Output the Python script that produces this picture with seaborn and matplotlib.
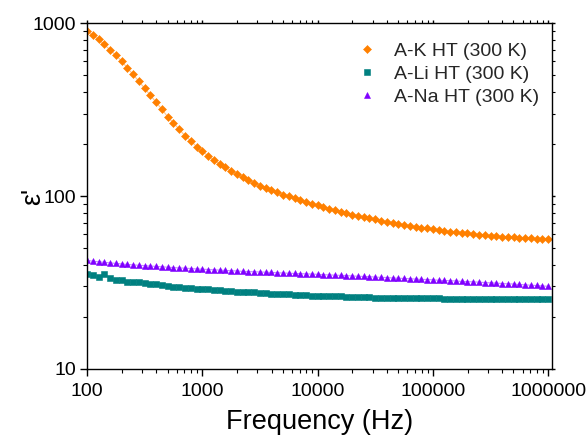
import numpy as np
import pandas as pd
import matplotlib
matplotlib.use("Agg")
import matplotlib.pyplot as plt
from matplotlib.lines import Line2D
from matplotlib.ticker import LogLocator, NullFormatter, FixedLocator, FixedFormatter
import seaborn as sns

# Frequency sweep (Hz), 20 points per decade
freq = [100, 112, 126, 141, 158, 178, 200, 224, 251, 282,
        316, 355, 398, 447, 501, 562, 631, 708, 794, 891,
        1000, 1122, 1259, 1413, 1585, 1778, 1995, 2239, 2512, 2818,
        3162, 3548, 3981, 4467, 5012, 5623, 6310, 7079, 7943, 8913,
        10000, 11220, 12589, 14125, 15849, 17783, 19953, 22387, 25119, 28184,
        31623, 35481, 39811, 44668, 50119, 56234, 63096, 70795, 79433, 89125,
        100000, 112202, 125893, 141254, 158489, 177828, 199526, 223872, 251189, 281838,
        316228, 354813, 398107, 446684, 501187, 562341, 630957, 707946, 794328, 891251,
        1000000]

eps_K = [903, 849, 805, 753, 701, 651, 603, 549, 505, 460,
         420, 382, 348, 317, 287, 265, 243, 223, 209, 193,
         181, 171, 161, 154, 147, 140, 134, 129, 124, 119,
         115, 112, 108, 105, 102, 99.6, 97.0, 94.5, 92.3, 90.3,
         88.3, 86.3, 84.5, 83.0, 81.2, 79.4, 78.0, 76.6, 75.3, 74.3,
         73.4, 71.9, 70.8, 69.8, 68.9, 68.0, 67.1, 66.5, 65.7, 65.1,
         64.2, 63.6, 62.8, 62.2, 61.7, 61.1, 60.9, 60.3, 59.8, 59.5,
         59.0, 58.7, 58.2, 58.0, 57.7, 57.4, 57.2, 57.0, 56.7, 56.7,
         56.6]

eps_Li = [35.2, 34.8, 33.9, 35.6, 33.4, 32.7, 32.6, 31.7, 31.7, 31.7,
          31.5, 30.9, 30.9, 30.5, 30.2, 29.9, 29.7, 29.5, 29.3, 29.1,
          29.0, 28.9, 28.6, 28.5, 28.2, 28.1, 28.0, 27.9, 27.8, 27.7,
          27.4, 27.4, 27.2, 27.0, 27.0, 27.0, 26.8, 26.8, 26.7, 26.5,
          26.5, 26.4, 26.3, 26.3, 26.3, 26.2, 26.1, 26.0, 26.0, 26.0,
          25.9, 25.8, 25.8, 25.7, 25.7, 25.6, 25.6, 25.6, 25.6, 25.6,
          25.6, 25.6, 25.4, 25.4, 25.4, 25.4, 25.4, 25.4, 25.4, 25.4,
          25.4, 25.4, 25.4, 25.4, 25.4, 25.4, 25.4, 25.4, 25.4, 25.4,
          25.4]

eps_Na = [42.5, 42.0, 41.7, 41.4, 41.1, 40.8, 40.5, 40.2, 40.0, 39.8,
          39.6, 39.4, 39.2, 39.0, 38.8, 38.6, 38.4, 38.3, 38.1, 37.9,
          37.8, 37.6, 37.5, 37.3, 37.2, 37.0, 36.9, 36.7, 36.6, 36.5,
          36.4, 36.3, 36.2, 36.0, 35.9, 35.8, 35.7, 35.6, 35.5, 35.4,
          35.3, 35.1, 35.0, 34.9, 34.8, 34.7, 34.5, 34.4, 34.3, 34.2,
          34.0, 33.9, 33.8, 33.6, 33.5, 33.4, 33.3, 33.1, 33.0, 32.9,
          32.8, 32.6, 32.5, 32.4, 32.3, 32.1, 32.0, 31.9, 31.8, 31.6,
          31.5, 31.4, 31.2, 31.1, 31.0, 30.8, 30.7, 30.5, 30.4, 30.2,
          30.1]

labels = ["A-K HT (300 K)", "A-Li HT (300 K)", "A-Na HT (300 K)"]
colors = ["#FF8000", "#008080", "#8000FF"]
markers = ["D", "s", "^"]
msizes = [3.8, 3.8, 4.4]
x_ticks = [100, 1000, 10000, 100000, 1000000]
x_ticklabels = ["100", "1000", "10000", "100000", "1000000"]
y_ticks = [10, 100, 1000]
y_ticklabels = ["10", "100", "1000"]

df = pd.DataFrame({
    "freq": freq * 3,
    "eps": eps_K + eps_Li + eps_Na,
    "sample": [labels[0]] * len(freq) + [labels[1]] * len(freq) + [labels[2]] * len(freq),
})

sns.set_theme(style="white")
plt.rcParams["font.family"] = ["Liberation Sans", "DejaVu Sans"]

fig = plt.figure(figsize=(5.86, 4.36), dpi=100)
ax = fig.add_axes([0.1485, 0.1537, 0.7935, 0.7933])

for lab, col, mk, ms in zip(labels, colors, markers, msizes):
    sub = df[df["sample"] == lab]
    # thin connecting line
    sns.lineplot(data=sub, x="freq", y="eps", ax=ax, color=col, lw=0.8,
                 alpha=0.45, legend=False, sort=False)
    # markers
    sns.lineplot(data=sub, x="freq", y="eps", ax=ax, color=col, lw=0,
                 marker=mk, markersize=ms, markeredgewidth=0.4,
                 markeredgecolor=col, legend=False, sort=False)

ax.set_xscale("log")
ax.set_yscale("log")
ax.set_xlim(100, 1.08e6)
ax.set_ylim(10, 1000)

ax.xaxis.set_major_locator(FixedLocator(x_ticks))
ax.xaxis.set_major_formatter(FixedFormatter(x_ticklabels))
ax.yaxis.set_major_locator(FixedLocator(y_ticks))
ax.yaxis.set_major_formatter(FixedFormatter(y_ticklabels))
ax.xaxis.set_minor_locator(LogLocator(base=10, subs=np.arange(2, 10)))
ax.yaxis.set_minor_locator(LogLocator(base=10, subs=np.arange(2, 10)))
ax.xaxis.set_minor_formatter(NullFormatter())
ax.yaxis.set_minor_formatter(NullFormatter())

for side in ["left", "bottom", "top", "right"]:
    ax.spines[side].set_color("black")
    ax.spines[side].set_linewidth(1.0)

ax.tick_params(axis="both", which="major", direction="out", length=5, width=1,
               color="black", labelsize=14, pad=3, labelcolor="black",
               bottom=True, left=True)
ax.tick_params(axis="x", which="major", pad=5)
ax.tick_params(axis="both", which="minor", direction="out", length=3, width=0.8,
               color="black", bottom=True, left=True)
ax.tick_params(axis="both", which="both", top=True, right=True)
for t in ax.xaxis.get_ticklines(minor=True)[1::2] + ax.xaxis.get_ticklines()[1::2]:
    t.set_markersize(2)
for t in ax.yaxis.get_ticklines(minor=True)[1::2] + ax.yaxis.get_ticklines()[1::2]:
    t.set_markersize(2)

ax.set_xlabel("Frequency (Hz)", fontsize=19.5, labelpad=6.5, color="black")
ax.set_ylabel("ε'", fontsize=19.5, color="black")
ax.yaxis.set_label_coords(-0.088, 0.5)

handles = [Line2D([], [], ls="none", marker=mk, color=col, markersize=ms,
                  markeredgewidth=0.4, markeredgecolor=col)
           for col, mk, ms in zip(colors, markers, msizes)]
ax.legend(handles, labels, loc="upper right", bbox_to_anchor=(1.015, 1.0),
          frameon=False, fontsize=14, handlelength=1.0, handletextpad=0.9,
          labelspacing=0.27, borderaxespad=0.6)

fig.savefig("out.png", dpi=100)
